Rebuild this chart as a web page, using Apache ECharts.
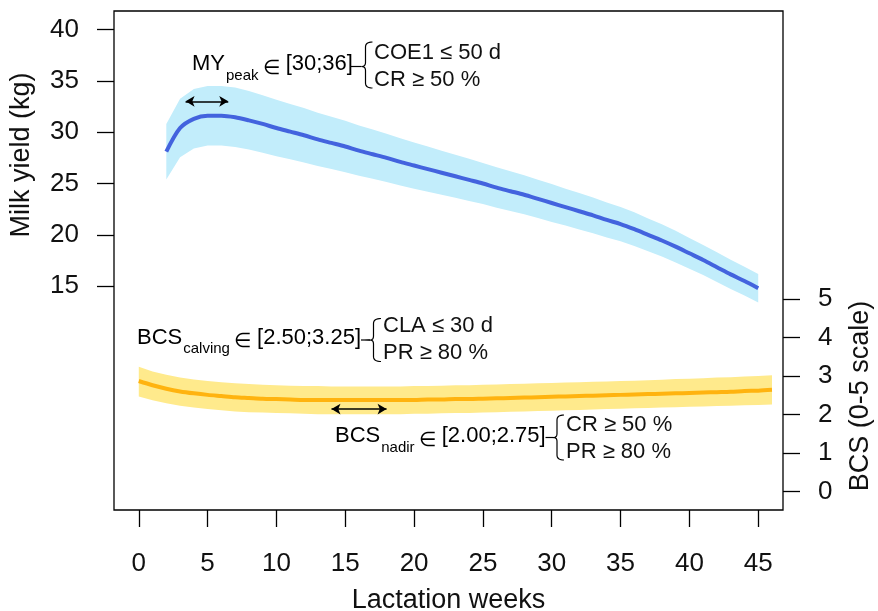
<!DOCTYPE html>
<html>
<head>
<meta charset="utf-8">
<script src="https://cdn.jsdelivr.net/npm/echarts@6/dist/echarts.min.js"></script>
<style>
html, body { margin: 0; padding: 0; background: #fff; }
#chart { width: 878px; height: 611px; }
</style>
</head>
<body>
<div id="chart"></div>
<script>
// milk yield (kg), weeks 2-45
const weeksMY = [2, 3, 4, 5, 6, 7, 8, 9, 10, 11, 12, 13, 14, 15, 16, 17, 18, 19, 20, 21, 22, 23,
  24, 25, 26, 27, 28, 29, 30, 31, 32, 33, 34, 35, 36, 37, 38, 39, 40, 41, 42, 43, 44, 45]
const myMean = [28.1, 30.4, 31.3, 31.6, 31.6, 31.45, 31.15, 30.8, 30.4, 30.05, 29.7, 29.3, 28.95, 28.6,
  28.2, 27.85, 27.5, 27.1, 26.75, 26.4, 26.05, 25.7, 25.35, 25.0, 24.6, 24.25, 23.9, 23.5, 23.1, 22.7,
  22.3, 21.9, 21.45, 21.05, 20.55, 20.0, 19.45, 18.85, 18.2, 17.55, 16.85, 16.15, 15.5, 14.8]
const myUpper = [30.8, 33.25, 34.2, 34.5, 34.5, 34.35, 34.0, 33.6, 33.15, 32.75, 32.35, 31.9, 31.5, 31.1,
  30.65, 30.25, 29.85, 29.4, 29.0, 28.6, 28.2, 27.8, 27.4, 27.0, 26.57, 26.19, 25.8, 25.37, 24.94, 24.5,
  24.07, 23.64, 23.15, 22.72, 22.19, 21.6, 21.02, 20.39, 19.7, 19.02, 18.3, 17.58, 16.9, 16.18]
const myLower = [25.4, 27.55, 28.4, 28.7, 28.7, 28.55, 28.3, 28.0, 27.65, 27.35, 27.05, 26.7, 26.4, 26.1,
  25.75, 25.45, 25.15, 24.8, 24.5, 24.2, 23.9, 23.6, 23.3, 23.0, 22.63, 22.31, 22.0, 21.63, 21.26, 20.9,
  20.53, 20.16, 19.75, 19.38, 18.91, 18.4, 17.88, 17.31, 16.7, 16.08, 15.4, 14.72, 14.1, 13.42]

// body condition score, weeks 0-46
const weeksBCS = [0, 1, 2, 3, 4, 5, 6, 7, 8, 9, 10, 11, 12, 13, 14, 15, 16, 17, 18, 19, 20, 21, 22, 23,
  24, 25, 26, 27, 28, 29, 30, 31, 32, 33, 34, 35, 36, 37, 38, 39, 40, 41, 42, 43, 44, 45, 46]
const bcsMean = [2.87, 2.76, 2.67, 2.60, 2.55, 2.51, 2.48, 2.45, 2.43, 2.41, 2.40, 2.39, 2.38, 2.38,
  2.38, 2.38, 2.38, 2.38, 2.38, 2.38, 2.38, 2.39, 2.39, 2.40, 2.40, 2.41, 2.42, 2.43, 2.44, 2.45, 2.46,
  2.47, 2.48, 2.49, 2.50, 2.51, 2.52, 2.53, 2.54, 2.55, 2.56, 2.57, 2.58, 2.59, 2.61, 2.62, 2.64]
const bcsUpper = [3.24, 3.12, 3.03, 2.96, 2.91, 2.87, 2.84, 2.81, 2.79, 2.77, 2.76, 2.75, 2.74, 2.74,
  2.73, 2.73, 2.73, 2.73, 2.73, 2.73, 2.74, 2.74, 2.75, 2.76, 2.76, 2.77, 2.78, 2.79, 2.80, 2.81, 2.82,
  2.83, 2.84, 2.85, 2.86, 2.87, 2.88, 2.89, 2.90, 2.92, 2.93, 2.94, 2.96, 2.97, 2.99, 3.00, 3.02]
const bcsLower = [2.47, 2.37, 2.29, 2.23, 2.18, 2.14, 2.11, 2.08, 2.06, 2.05, 2.04, 2.03, 2.02, 2.01,
  2.01, 2.01, 2.01, 2.01, 2.01, 2.01, 2.02, 2.02, 2.03, 2.04, 2.04, 2.05, 2.06, 2.07, 2.08, 2.09, 2.10,
  2.11, 2.12, 2.13, 2.14, 2.15, 2.16, 2.17, 2.18, 2.19, 2.20, 2.21, 2.22, 2.23, 2.24, 2.25, 2.26]

// tick labels
const weekTicks = [0, 5, 10, 15, 20, 25, 30, 35, 40, 45]
const myTicks = [15, 20, 25, 30, 35, 40]
const bcsTicks = [0, 1, 2, 3, 4, 5]

// arrows (week range, height)
const myPeakArrow = [[3.4, 33.0], [6.5, 33.0]]
const bcsNadirArrow = [[14, 2.14], [18, 2.14]]

const FONT = '"Liberation Sans", Arial, Helvetica, sans-serif'

function pairs (xs, ys) {
  return xs.map((x, i) => [x, ys[i]])
}

// band between lower and upper, one polygon through the axes
function bandSeries (xs, lo, hi, axisIdx, color) {
  return {
    type: 'custom', yAxisIndex: axisIdx, silent: true, z: 1,
    data: xs.map((x, i) => [x, lo[i], hi[i]]),
    encode: { x: 0, y: [1, 2] },
    renderItem: function (params, api) {
      if (params.dataIndex !== 0) return null
      let pts = []
      xs.forEach((x, i) => pts.push(api.coord([x, hi[i]])))
      for (let i = xs.length - 1; i >= 0; i--) pts.push(api.coord([xs[i], lo[i]]))
      return { type: 'polygon', shape: { points: pts }, style: { fill: color, stroke: null } }
    }
  }
}

// curly brace as a polyline, pointing left
function quad (p0, c, p1, n) {
  let pts = []
  for (let i = 0; i <= n; i++) {
    let t = i / n
    pts.push([
      (1 - t) * (1 - t) * p0[0] + 2 * (1 - t) * t * c[0] + t * t * p1[0],
      (1 - t) * (1 - t) * p0[1] + 2 * (1 - t) * t * c[1] + t * t * p1[1]
    ])
  }
  return pts
}
function brace (xDash, xTip, xV, xR, yT, yM, yB) {
  let r = 5
  let pts = []
  pts = pts.concat(quad([xR, yT], [xV, yT], [xV, yT + r], 8))
  pts = pts.concat(quad([xV, yM - 4], [xV, yM], [xTip, yM], 6))
  pts = pts.concat(quad([xTip, yM], [xV, yM], [xV, yM + 4], 6))
  pts = pts.concat(quad([xV, yB - r], [xV, yB], [xR, yB], 8))
  return [
    { type: 'polyline', z: 100, shape: { points: pts }, style: { stroke: '#000', lineWidth: 1.2, fill: null }, silent: true },
    { type: 'line', z: 100, shape: { x1: xDash, y1: yM, x2: xTip, y2: yM }, style: { stroke: '#000', lineWidth: 1.2 }, silent: true }
  ]
}

const richMain = { fontSize: 22, lineHeight: 26, verticalAlign: 'top', fontFamily: FONT, color: '#111' }
const richSub = { fontSize: 15, lineHeight: 15, padding: [15, 1, 0, 1], verticalAlign: 'top', fontFamily: FONT, color: '#111' }
const richElem = { fontSize: 20, lineHeight: 20, padding: [5, 0, 0, 3], verticalAlign: 'top', fontFamily: FONT, color: '#111' }

function label (x, y, main, sub, rest) {
  return {
    type: 'text', x: x, y: y, z: 100, silent: true,
    style: {
      text: '{m|' + main + '}{s|' + sub + '}{e|\u2208}{m| ' + rest + '}',
      rich: { m: richMain, s: richSub, e: richElem },
      verticalAlign: 'top', align: 'left'
    }
  }
}
function plain (x, y, txt) {
  return {
    type: 'text', x: x, y: y, z: 100, silent: true,
    style: { text: txt, fontSize: 22, fontFamily: FONT, fill: '#111', verticalAlign: 'middle', align: 'left' }
  }
}
function title (x, y, txt, rot) {
  return {
    type: 'text', x: x, y: y, rotation: rot, z: 100, silent: true,
    style: { text: txt, fontSize: 27, fontFamily: FONT, fill: '#111', verticalAlign: 'middle', align: 'center' }
  }
}

const arrowMark = (pts) => ({
  silent: true,
  symbol: ['arrow', 'arrow'],
  symbolSize: [8, 9],
  lineStyle: { color: '#000', width: 1.5, type: 'solid' },
  label: { show: false },
  emphasis: { disabled: true },
  data: [[{ coord: pts[0] }, { coord: pts[1] }]]
})

let myChart = echarts.init(document.getElementById('chart'))
myChart.setOption({
  animation: false,
  grid: {
    left: 114, right: 95, top: 11, bottom: 101,
    show: true, borderColor: '#000', borderWidth: 1.3, backgroundColor: 'transparent'
  },
  xAxis: {
    type: 'value', min: -1.8, max: 46.8,
    splitLine: { show: false },
    axisLine: { show: false, onZero: false },
    axisTick: { show: true, length: 17, customValues: weekTicks, lineStyle: { color: '#000', width: 1.3 } },
    axisLabel: { customValues: weekTicks, fontSize: 26, fontFamily: FONT, color: '#111', margin: 41 }
  },
  yAxis: [
    {
      type: 'value', position: 'left', min: -6.8, max: 41.8,
      splitLine: { show: false },
      axisLine: { show: false, onZero: false },
      axisTick: { show: true, length: 17, customValues: myTicks, lineStyle: { color: '#000', width: 1.3 } },
      axisLabel: { customValues: myTicks, fontSize: 26, fontFamily: FONT, color: '#111', margin: 35 }
    },
    {
      type: 'value', position: 'right', min: -0.48, max: 12.48,
      splitLine: { show: false },
      axisLine: { show: false, onZero: false },
      axisTick: { show: true, length: 17, customValues: bcsTicks, lineStyle: { color: '#000', width: 1.3 } },
      axisLabel: { customValues: bcsTicks, fontSize: 26, fontFamily: FONT, color: '#111', margin: 35 }
    }
  ],
  series: [
    bandSeries(weeksMY, myLower, myUpper, 0, '#C2EDFB'),
    {
      type: 'line', yAxisIndex: 0, data: pairs(weeksMY, myMean), z: 3,
      symbol: 'none', smooth: 0.3, lineStyle: { color: '#4363DE', width: 4 }, silent: true,
      markLine: arrowMark(myPeakArrow)
    },
    bandSeries(weeksBCS, bcsLower, bcsUpper, 1, '#FFEA8C'),
    {
      type: 'line', yAxisIndex: 1, data: pairs(weeksBCS, bcsMean), z: 3,
      symbol: 'none', smooth: 0.3, lineStyle: { color: '#FFB30F', width: 4 }, silent: true,
      markLine: arrowMark(bcsNadirArrow)
    }
  ],
  graphic: [
    title(22, 155, 'Milk yield (kg)', Math.PI / 2),
    title(861, 396, 'BCS (0-5 scale)', Math.PI / 2),
    title(448.5, 601, 'Lactation weeks', 0),

    label(192, 53, 'MY', 'peak', '[30;36]'),
    ...brace(351, 361.5, 365.5, 372.5, 42, 66.5, 88),
    plain(374, 53, 'COE1 \u2264 50 d'),
    plain(374, 80, 'CR \u2265 50 %'),

    label(137, 326.5, 'BCS', 'calving', '[2.50;3.25]'),
    ...brace(361, 370, 373.5, 381, 318.5, 340, 361.5),
    plain(383, 326, 'CLA \u2264 30 d'),
    plain(383, 353, 'PR \u2265 80 %'),

    label(335, 425, 'BCS', 'nadir', '[2.00;2.75]'),
    ...brace(545.5, 553.5, 557, 564, 415, 437.5, 460),
    plain(566, 425, 'CR \u2265 50 %'),
    plain(566, 452, 'PR \u2265 80 %')
  ]
})
</script>
</body>
</html>
